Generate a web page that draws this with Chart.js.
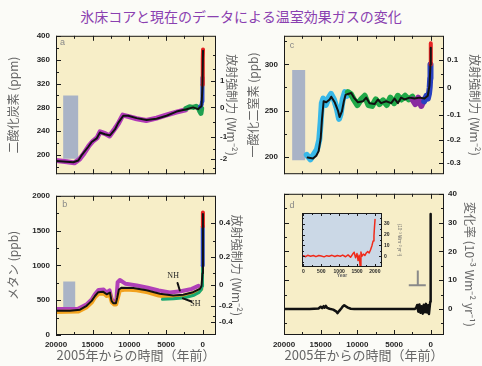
<!DOCTYPE html>
<html>
<head>
<meta charset="utf-8">
<script src="https://cdn.jsdelivr.net/npm/chart.js"></script>
<style>
  body { margin: 0; width: 482px; height: 366px; overflow: hidden; position: relative; background: #fbfbf7; }
  canvas { position: absolute; }
  #title { position: absolute; left: 0; top: 6px; width: 482px; text-align: center; line-height: 20px;
           font: 14px "Noto Sans CJK JP", sans-serif; color: #8a40b0; }
</style>
</head>
<body>
<div id="title">氷床コアと現在のデータによる温室効果ガスの変化</div>
<canvas id="pa" width="244" height="160" style="left:0;top:25px"></canvas>
<canvas id="pb" width="244" height="181" style="left:0;top:185px"></canvas>
<canvas id="pc" width="238" height="160" style="left:244px;top:25px"></canvas>
<canvas id="pd" width="238" height="181" style="left:244px;top:185px"></canvas>
<canvas id="pi" width="115" height="78" style="left:290px;top:206px"></canvas>
<script>
// shared time axis (years before 2005)
const xTicks = [20000, 17500, 15000, 12500, 10000, 7500, 5000, 2500, 0];
const xTickLabels = ['20000', '', '15000', '', '10000', '', '5000', '', '0'];
const xTitle = '2005年からの時間（年前）';

// a: CO2
const co2Ticks = [180, 200, 220, 240, 260, 280, 300, 320, 340, 360, 380, 400];
const co2TickLabels = ['', '200', '', '240', '', '280', '', '320', '', '360', '', '400'];
const co2RfTicks = [178, 193, 210, 231, 255, 280, 300, 324, 345, 368];
const co2RfLabels = ['', '-2', '', '-1', '', '0', '', '1', '', ''];
const co2Years = [20000, 18550, 17640, 16960, 16550, 15600, 15140, 14460, 14010, 13330, 12650, 11970, 11520, 10840, 10160, 9020, 7660, 6300, 4940, 3580, 2220, 1320, 640, 400, 180, 50, -30];
const co2Ppm = [190, 189, 188, 191, 199, 214, 222, 228, 238, 235, 233, 243, 254, 266, 266, 262, 259, 261, 266, 273, 277, 280, 277, 280, 282, 313, 375];
const co2IceYears = [20000, 18500, 17500, 16800, 16300, 15500, 15000, 14400, 14000, 13300, 12700, 12000, 11500, 10900, 10200, 9000, 7700, 6300, 5000, 3600, 2300];
const co2IcePpm = [191, 189, 187, 193, 201, 216, 223, 229, 239, 236, 232, 244, 253, 267, 265, 261, 258, 262, 267, 272, 276];
const co2LawYears = [2300, 1800, 1300, 900, 600, 400, 250, 150];
const co2LawPpm = [278, 281, 280, 282, 279, 273, 270, 278];
const co2FirnYears = [400, 250, 150, 100, 60, 30];
const co2FirnPpm = [281, 283, 285, 290, 310, 330];
const co2AirYears = [40, 20, 0, -20, -30];
const co2AirPpm = [318, 330, 345, 362, 377];
const co2RangeYears = [18000, 18000];
const co2RangePpm = [194, 300];

// b: CH4
const ch4Ticks = [0, 250, 500, 750, 1000, 1250, 1500, 1750, 2000];
const ch4TickLabels = ['0', '', '500', '', '1000', '', '1500', '', '2000'];
const ch4RfTicks = [186, 280, 420, 560, 723, 886, 1119, 1352, 1609];
const ch4RfLabels = ['-0.4', '', '-0.2', '', '0', '', '0.2', '', '0.4'];
const ch4Years = [20000, 18100, 16730, 15830, 15140, 14690, 14240, 13560, 13100, 12650, 12430, 12200, 11840, 11660, 11430, 11060, 9480, 7660, 5850, 4040, 2680, 1320, 410, 180, 40, -20];
const ch4Ppb = [350, 350, 364, 420, 490, 560, 615, 620, 585, 610, 490, 456, 456, 536, 653, 680, 676, 643, 594, 566, 578, 615, 662, 700, 886, 1740];
const ch4NHYears = [20000, 17000, 15800, 15100, 14700, 14200, 13500, 13100, 12700, 12400, 12100, 11800, 11600, 11300, 10500, 9000, 7500, 6000, 4500, 3000, 1500, 600];
const ch4NHPpb = [372, 376, 442, 515, 585, 648, 652, 612, 640, 512, 472, 470, 760, 790, 735, 712, 678, 640, 612, 628, 662, 705];
const ch4SHYears = [20000, 17000, 15800, 15100, 14700, 14200, 13500, 13100, 12700, 12400, 12100, 11800, 11600, 11300, 10500, 9000, 7500, 6000, 4500, 3000, 1500, 600, 200];
const ch4SHPpb = [332, 336, 400, 470, 540, 592, 596, 560, 585, 470, 440, 440, 520, 640, 652, 642, 612, 566, 542, 552, 592, 632, 662];
const ch4LawYears = [5500, 4000, 2500, 1200, 500, 200, 100, 50, 20];
const ch4LawPpb = [512, 522, 536, 572, 612, 652, 700, 850, 1050];
const ch4FirnYears = [30, 15, 5, -5];
const ch4FirnPpb = [1000, 1250, 1450, 1560];
const ch4AirYears = [-5, -10, -15, -20];
const ch4AirPpb = [1560, 1650, 1710, 1760];
const ch4RangeYears = [18200, 18200];
const ch4RangePpb = [400, 770];
const nhPointerYears = [3440, 3130];
const nhPointerPpb = [746, 639];
const shPointerYears = [2700, 1550];
const shPointerPpb = [527, 482];

// c: N2O
const n2oTicks = [200, 225, 250, 275, 300, 325];
const n2oTickLabels = ['200', '', '250', '', '300', ''];
const n2oRfTicks = [193, 205, 218, 231, 245, 260, 275, 290, 305, 318];
const n2oRfLabels = ['-0.3', '', '-0.2', '', '-0.1', '', '0', '', '0.1', ''];
const n2oYears = [16780, 16050, 15600, 15280, 15000, 14830, 14600, 14240, 13780, 13560, 13100, 12650, 12430, 12110, 11840, 11610, 11290, 10840, 10480, 9930, 9250, 8800, 8340, 7660, 7210, 6760, 6080, 5400, 4940, 4490, 4040, 3580, 2900, 2220, 1540, 860, 410, 180, 40, 0];
const n2oPpb = [199, 198, 201, 206, 220, 240, 260, 259, 262, 265, 259, 250, 243, 249, 260, 267, 268, 269, 264, 259, 260, 264, 258, 257, 262, 258, 260, 258, 263, 258, 264, 262, 264, 263, 264, 263, 266, 277, 300, 318];
const n2oIceYears = [16900, 16400, 15900, 15500, 15200, 15000, 14850, 14650, 14300, 13900, 13600, 13200, 12800, 12500, 12300, 12000, 11700, 11400];
const n2oIcePpb = [202, 197, 203, 208, 218, 238, 258, 263, 256, 264, 268, 262, 252, 241, 246, 262, 270, 266];
const n2oHoloYears = [11300, 10900, 10500, 10000, 9500, 9000, 8500, 8000, 7500, 7000, 6500, 6000, 5500, 5000, 4500, 4000, 3500, 3000, 2500];
const n2oHoloPpb = [270, 268, 262, 256, 262, 266, 256, 255, 262, 257, 261, 256, 264, 258, 266, 262, 266, 262, 265];
const n2oLateYears = [2500, 2100, 1700, 1300, 900];
const n2oLatePpb = [262, 257, 264, 255, 262];
const n2oFirnYears = [900, 600, 400, 250, 150, 80, 40];
const n2oFirnPpb = [260, 266, 263, 268, 275, 285, 300];
const n2oAirYears = [40, 20, 0, -20];
const n2oAirPpb = [300, 310, 318, 323];
const n2oRangeYears = [18000, 18000];
const n2oRangePpb = [196, 294];

// d: rate of change of forcing
const rateTicks = [-5, 0, 5, 10, 15, 20, 25, 30, 35, 40];
const rateTickLabels = ['', '0', '', '10', '', '20', '', '30', '', '40'];
const rateYears = [20000, 16500, 15300, 15000, 14800, 14600, 14450, 14300, 14100, 13800, 13300, 12900, 12700, 12500, 12200, 12000, 11800, 11600, 11300, 10900, 10400, 9000, 6000, 3500, 2200, 2000, 1850, 1700, 1550, 1400, 1250, 1100, 950, 800, 650, 500, 350, 250, 150, 80, 40, 15, 0];
const rateVals = [0, 0, 0.2, 0.8, 0.3, 1.0, 0.5, 1.1, 0.4, 0.1, -0.2, -0.8, -1.4, -0.7, 0.2, 0.9, 1.3, 1.0, 0.5, 0.1, 0, 0, 0, 0, 0, 0.4, 1.4, -0.9, 1.6, -1.3, 1.0, -1.6, 1.5, -1.1, 1.8, -1.2, 1.3, -1.7, 0.8, 2.5, 6, 18, 33];
const markStemYears = [1770, 1770];
const markStemVals = [8.3, 13.4];
const markBaseYears = [3000, 680];
const markBaseVals = [8.3, 8.3];

// inset: last 2000 years
const insetXTicks = [0, 250, 500, 750, 1000, 1250, 1500, 1750, 2000];
const insetXLabels = ['0', '', '500', '', '1000', '', '1500', '', '2000'];
const insetYTicks = [-5, 0, 5, 10, 15, 20, 25, 30, 35];
const insetYLabels = ['', '0', '', '10', '', '20', '', '30', ''];
const insetYears = [0, 60, 120, 200, 280, 350, 430, 500, 580, 650, 720, 800, 880, 950, 1030, 1100, 1180, 1250, 1320, 1380, 1420, 1460, 1500, 1530, 1560, 1590, 1610, 1640, 1680, 1720, 1760, 1800, 1840, 1880, 1920, 1950, 1975, 1990, 2005];
const insetVals = [0.5, -0.5, 0.8, 0, 0.6, -0.4, 0.7, 0.2, -0.6, 0.5, 0, 0.8, -0.3, 0.6, 0, 1, -0.5, 1.2, -1, 2, 3.7, -1.5, 2.5, -4, 1, -10, 4, 0, 2, 0.6, 3, 4.3, 3, 6, 10, 14, 19, 27, 34];

const tickFont = { family: '"Liberation Sans", Arial, sans-serif', size: 8, weight: 'bold' };
const axisTitleFont = { family: '"Noto Sans CJK JP", sans-serif', size: 12 };
const grayBar = '#a9b3c6';

// background, frame, inward ticks and small texts
const framePlugin = {
  id: 'frame',
  defaults: { bg: '#f7eec8', lineWidth: 1, major: 5, minor: 3, mirror: false, texts: [] },
  beforeDatasetsDraw(chart, args, o) {
    const { ctx, chartArea: a } = chart;
    ctx.save();
    ctx.fillStyle = o.bg;
    ctx.fillRect(a.left, a.top, a.right - a.left, a.bottom - a.top);
    ctx.restore();
  },
  afterDatasetsDraw(chart, args, o) {
    const { ctx, chartArea: a } = chart;
    ctx.save();
    ctx.strokeStyle = '#1a1a1a';
    ctx.lineWidth = o.lineWidth;
    ctx.beginPath();
    Object.values(chart.scales).forEach(s => {
      s.ticks.forEach(t => {
        const len = t.label ? o.major : o.minor;
        const p = Math.round(s.getPixelForValue(t.value)) + 0.5;
        if (s.axis === 'x') {
          ctx.moveTo(p, a.bottom); ctx.lineTo(p, a.bottom - len);
          ctx.moveTo(p, a.top); ctx.lineTo(p, a.top + len);
        } else {
          if (s.position === 'left' || o.mirror) { ctx.moveTo(a.left, p); ctx.lineTo(a.left + len, p); }
          if (s.position === 'right' || o.mirror) { ctx.moveTo(a.right, p); ctx.lineTo(a.right - len, p); }
        }
      });
    });
    ctx.stroke();
    ctx.strokeRect(a.left + 0.5, a.top + 0.5, a.right - a.left - 1, a.bottom - a.top - 1);
    o.texts.forEach(t => {
      ctx.font = t.font;
      ctx.fillStyle = t.color;
      ctx.textAlign = 'center';
      ctx.textBaseline = 'middle';
      ctx.fillText(t.text, chart.scales.x.getPixelForValue(t.x), chart.scales.y.getPixelForValue(t.y));
    });
    ctx.restore();
  }
};
Chart.register(framePlugin);

const pts = (xs, ys) => xs.map((x, i) => ({ x, y: ys[i] }));
const series = (xs, ys, color, width, extra) => Object.assign({
  data: pts(xs, ys), borderColor: color, borderWidth: width, pointRadius: 0,
  fill: false, tension: 0, borderJoinStyle: 'round', borderCapStyle: 'round'
}, extra);
const rangeBar = (xs, ys, w) => series(xs, ys, grayBar, w, { borderCapStyle: 'butt' });

function axis(o) {
  return {
    type: 'linear', position: o.pos, reverse: !!o.reverse, min: o.min, max: o.max,
    afterBuildTicks: s => { s.ticks = o.ticks.map(v => ({ value: v })); },
    afterFit: s => { if (o.pos === 'bottom') s.height = o.size; else s.width = o.size; },
    grid: { display: false, drawTicks: false }, border: { display: false },
    ticks: {
      display: !!o.labels && o.show !== false, autoSkip: false, maxRotation: 0,
      padding: o.pad, font: o.font || tickFont, color: '#262626',
      callback: (v, i) => (o.labels ? o.labels[i] : '')
    },
    title: o.title
      ? { display: true, text: o.title, font: o.titleFont || axisTitleFont, color: '#666', padding: o.titlePad }
      : { display: false }
  };
}
const timeAxis = (bottomRow) => axis({
  pos: 'bottom', reverse: true, min: -1800, max: 20000, ticks: xTicks, labels: xTickLabels,
  show: bottomRow, size: bottomRow ? 31 : 4, pad: 5,
  title: bottomRow ? xTitle : null, titleFont: { family: '"Noto Sans CJK JP", sans-serif', size: 13 },
  titlePad: { top: 0, bottom: 3 }
});

// first dataset in the list is drawn on top
function panel(id, datasets, scales, padding, frame) {
  return new Chart(document.getElementById(id), {
    type: 'line',
    data: { datasets: datasets.map((d, i) => Object.assign(d, { order: i })) },
    options: {
      responsive: false, animation: false,
      layout: { padding },
      scales,
      plugins: { legend: { display: false }, tooltip: { enabled: false }, frame }
    }
  });
}

const letterFont = '9px "Liberation Sans", Arial, sans-serif';

panel('pa', [
  series(co2Years, co2Ppm, '#111', 2),
  series(co2AirYears, co2AirPpm, '#e52222', 4),
  series(co2FirnYears, co2FirnPpm, '#2848c8', 4),
  series(co2LawYears, co2LawPpm, '#20a050', 5),
  series(co2IceYears, co2IcePpm, '#b23ab8', 5),
  rangeBar(co2RangeYears, co2RangePpm, 15)
], {
  x: timeAxis(false),
  y: axis({ pos: 'left', min: 168, max: 400, ticks: co2Ticks, labels: co2TickLabels, size: 56, pad: 6,
            title: '二酸化炭素 (ppm)', titlePad: { top: 6 } }),
  r: axis({ pos: 'right', min: 168, max: 400, ticks: co2RfTicks, labels: co2RfLabels, size: 28, pad: 4,
            title: '放射強制力 (Wm⁻²)', titlePad: { top: 5 } })
}, { top: 9 }, { texts: [{ x: 19100, y: 388, text: 'a', font: letterFont, color: '#888' }] });

panel('pb', [
  series(nhPointerYears, nhPointerPpb, '#111', 2),
  series(shPointerYears, shPointerPpb, '#111', 2),
  series(ch4Years, ch4Ppb, '#111', 2),
  series(ch4AirYears, ch4AirPpb, '#e52222', 4),
  series(ch4FirnYears, ch4FirnPpb, '#2848c8', 4),
  series(ch4LawYears, ch4LawPpb, '#1aa870', 3),
  series(ch4SHYears, ch4SHPpb, '#f2a21e', 4),
  series(ch4NHYears, ch4NHPpb, '#b040b8', 4),
  rangeBar(ch4RangeYears, ch4RangePpb, 12)
], {
  x: timeAxis(true),
  y: axis({ pos: 'left', min: 0, max: 2000, ticks: ch4Ticks, labels: ch4TickLabels, size: 56, pad: 6,
            title: 'メタン (ppb)', titlePad: { top: 6 } }),
  r: axis({ pos: 'right', min: 0, max: 2000, ticks: ch4RfTicks, labels: ch4RfLabels, size: 28, pad: 3,
            title: '放射強制力 (Wm⁻²)', titlePad: { top: 0 } })
}, { top: 7 }, { texts: [
  { x: 18800, y: 1880, text: 'b', font: letterFont, color: '#888' },
  { x: 4040, y: 850, text: 'NH', font: '8px "Liberation Serif", serif', color: '#222' },
  { x: 1000, y: 440, text: 'SH', font: '8px "Liberation Serif", serif', color: '#222' }
] });

panel('pc', [
  series(n2oYears, n2oPpb, '#111', 2),
  series(n2oAirYears, n2oAirPpb, '#e52222', 4),
  series(n2oFirnYears, n2oFirnPpb, '#2840c0', 6),
  series(n2oLateYears, n2oLatePpb, '#8a2aa0', 6),
  series(n2oHoloYears, n2oHoloPpb, '#20a848', 6),
  series(n2oIceYears, n2oIcePpb, '#38b8e8', 6),
  rangeBar(n2oRangeYears, n2oRangePpb, 13)
], {
  x: timeAxis(false),
  y: axis({ pos: 'left', min: 181, max: 331, ticks: n2oTicks, labels: n2oTickLabels, size: 40, pad: 6,
            title: '一酸化二窒素 (ppb)', titlePad: { top: 2 } }),
  r: axis({ pos: 'right', min: 181, max: 331, ticks: n2oRfTicks, labels: n2oRfLabels, size: 38, pad: 3,
            title: '放射強制力 (Wm⁻²)', titlePad: { top: 0 } })
}, { top: 9 }, { texts: [{ x: 18900, y: 321, text: 'c', font: letterFont, color: '#888' }] });

panel('pd', [
  series(rateYears, rateVals, '#111', 2.5),
  series(markStemYears, markStemVals, '#8a8a8a', 2, { borderCapStyle: 'butt' }),
  series(markBaseYears, markBaseVals, '#8a8a8a', 2, { borderCapStyle: 'butt' })
], {
  x: timeAxis(true),
  y: axis({ pos: 'right', min: -9, max: 40, ticks: rateTicks, labels: rateTickLabels, size: 38, pad: 4,
            title: '変化率 (10⁻³ Wm⁻² yr⁻¹)', titlePad: { top: 5 } })
}, { top: 7, left: 40 }, { mirror: true, texts: [{ x: 18900, y: 36, text: 'd', font: letterFont, color: '#888' }] });

panel('pi', [
  series(insetYears, insetVals, '#f02a1a', 1.5)
], {
  x: axis({ pos: 'bottom', min: -40, max: 2200, ticks: insetXTicks, labels: insetXLabels, size: 17, pad: 2,
            font: { family: '"Liberation Sans", Arial, sans-serif', size: 5, weight: 'bold' },
            title: 'Year', titleFont: { family: '"Liberation Sans", Arial, sans-serif', size: 5, weight: 'bold' },
            titlePad: { top: 0, bottom: 5 } }),
  y: axis({ pos: 'right', min: -10, max: 40, ticks: insetYTicks, labels: insetYLabels, size: 23, pad: 2,
            font: { family: '"Liberation Sans", Arial, sans-serif', size: 5, weight: 'bold' },
            title: '(10⁻³ Wm⁻² yr⁻¹)', titleFont: { family: '"Liberation Sans", Arial, sans-serif', size: 4.5 },
            titlePad: { top: 3 } })
}, { top: 7, left: 12 }, { bg: '#cbd8e6', major: 3, minor: 2, mirror: true });
</script>
</body>
</html>
